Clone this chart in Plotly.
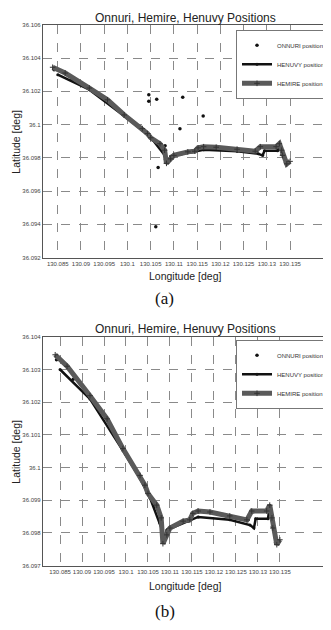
import plotly.graph_objects as go

# ---------------- data ----------------
# HEMIRE track (grey, thick)
hemire_lon = [130.0839, 130.0866, 130.0918, 130.0957, 130.0993, 130.1032, 130.1043, 130.1050,
              130.1070, 130.1080, 130.1084, 130.1093, 130.1100, 130.1130, 130.1145, 130.1152,
              130.1164, 130.1191, 130.1236, 130.1275, 130.1286, 130.1320, 130.1327, 130.1332,
              130.1334, 130.1343, 130.1350]
hemire_lat = [36.10345, 36.1031, 36.1022, 36.10149, 36.10058, 36.09976, 36.09946, 36.09921,
              36.09885, 36.09846, 36.09767, 36.09794, 36.09815, 36.09836, 36.0984, 36.0986,
              36.09867, 36.09864, 36.09852, 36.0984, 36.09867, 36.09867, 36.09885, 36.09846,
              36.09815, 36.09764, 36.09779]

# HENUVY track (black)
henuvy_lon = [130.0850, 130.0918, 130.0993, 130.1032, 130.1055, 130.1077, 130.1089, 130.1093,
              130.1141, 130.1164, 130.1236, 130.1282, 130.1291, 130.1295, 130.1323, 130.1327,
              130.1334, 130.1341]
henuvy_lat = [36.1030, 36.1021, 36.10052, 36.09967, 36.09906, 36.0983, 36.09785, 36.09809,
              36.09836, 36.09849, 36.0984, 36.09824, 36.09815, 36.09843, 36.09843, 36.09885,
              36.09821, 36.0977]

# ONNURI track (black dots)
onnuri_lon = [130.0842, 130.0880, 130.0940, 130.1000, 130.1040, 130.1068, 130.1082, 130.1095,
              130.1140, 130.1166, 130.1230, 130.1278, 130.1290, 130.1325, 130.1333, 130.1340]
onnuri_lat = [36.1033, 36.1027, 36.1018, 36.1004, 36.0995, 36.0988, 36.0979, 36.0981,
              36.0984, 36.09865, 36.0985, 36.0984, 36.09865, 36.09868, 36.0982, 36.0977]

# ONNURI outliers visible only in panel (a)
onnuri_out_lon = [130.1046, 130.1046, 130.1063, 130.1119, 130.1163, 130.1113, 130.1081,
                  130.1066, 130.1061]
onnuri_out_lat = [36.1018, 36.10141, 36.10153, 36.10165, 36.10052, 36.09975, 36.09873,
                  36.09742, 36.09385]

# axes ticks
lon_ticks = [130.085, 130.09, 130.095, 130.1, 130.105, 130.11, 130.115, 130.12, 130.125,
             130.13, 130.135]
lon_labels = ["130.085", "130.09", "130.095", "130.1", "130.105", "130.11", "130.115",
              "130.12", "130.125", "130.13", "130.135"]
lat_ticks_a = [36.092, 36.094, 36.096, 36.098, 36.1, 36.102, 36.104, 36.106]
lat_labels_a = ["36.092", "36.094", "36.096", "36.098", "36.1", "36.102", "36.104", "36.106"]
lat_ticks_b = [36.097, 36.098, 36.099, 36.1, 36.101, 36.102, 36.103, 36.104]
lat_labels_b = ["36.097", "36.098", "36.099", "36.1", "36.101", "36.102", "36.103", "36.104"]

title_text = "Onnuri, Hemire, Henuvy Positions"
series_names = ["ONNURI position", "HENUVY position", "HEMIRE position"]

# ---------------- page geometry (page body has an 8px margin) ----------------
OFF = 8
FW, FH = 331 - OFF, 630 - OFF


def px(x):
    return (x - OFF) / FW


def py(y):
    return 1 - (y - OFF) / FH


# ---------------- figure ----------------
fig = go.Figure()


def add_panel(xa, ya, leg, with_outliers):
    fig.add_trace(go.Scatter(
        x=onnuri_lon + ([None] + onnuri_out_lon if with_outliers else []),
        y=onnuri_lat + ([None] + onnuri_out_lat if with_outliers else []),
        mode="markers", name=series_names[0], xaxis=xa, yaxis=ya, legend=leg,
        marker=dict(color="#111111", size=3.5)))
    fig.add_trace(go.Scatter(
        x=henuvy_lon, y=henuvy_lat, mode="lines+markers", name=series_names[1],
        xaxis=xa, yaxis=ya, legend=leg,
        line=dict(color="#111111", width=2.5), marker=dict(color="#111111", size=3)))
    fig.add_trace(go.Scatter(
        x=hemire_lon, y=hemire_lat, mode="lines+markers", name=series_names[2],
        xaxis=xa, yaxis=ya, legend=leg,
        line=dict(color="#5a5a5a", width=5),
        marker=dict(color="#333333", size=4, symbol="cross-thin",
                    line=dict(width=1, color="#333333"))))


add_panel("x", "y", "legend", True)
add_panel("x2", "y2", "legend2", False)

tickfont = dict(family="Liberation Sans", size=6, color="#444444")
axis_common = dict(showgrid=True, griddash="dash", gridcolor="#8a8a8a", gridwidth=1,
                   showline=True, linecolor="#555555", linewidth=1, mirror=True,
                   zeroline=False, ticks="", tickfont=tickfont)

legend_style = dict(xanchor="left", yanchor="top",
                    bgcolor="white", bordercolor="#777777", borderwidth=1,
                    font=dict(size=6, family="Liberation Sans", color="#333333"),
                    tracegroupgap=0, itemwidth=30)

fig.update_layout(
    width=FW, height=FH,
    margin=dict(l=0, r=0, t=0, b=0),
    paper_bgcolor="white", plot_bgcolor="white",
    font=dict(family="Liberation Sans", color="#222222"),
    xaxis=dict(domain=[px(43), 1.0], anchor="y", range=[130.0818, 130.1436],
               tickvals=lon_ticks, ticktext=lon_labels, tickangle=0, **axis_common),
    yaxis=dict(domain=[py(257), py(22)], anchor="x", range=[36.092, 36.106],
               tickvals=lat_ticks_a, ticktext=lat_labels_a, **axis_common),
    xaxis2=dict(domain=[px(43), 1.0], anchor="y2", range=[130.0811, 130.1464],
                tickvals=lon_ticks, ticktext=lon_labels, tickangle=0, **axis_common),
    yaxis2=dict(domain=[py(568), py(337)], anchor="x2", range=[36.097, 36.104],
                tickvals=lat_ticks_b, ticktext=lat_labels_b, **axis_common),
    legend=dict(x=px(237), y=py(27), **legend_style),
    legend2=dict(x=px(237), y=py(340), **legend_style),
    showlegend=True,
)

ann_font = dict(family="Liberation Sans", size=12, color="#222222")
lab_font = dict(family="Liberation Sans", size=10.5, color="#222222")
annotations = [
    dict(text=title_text, x=px(186), y=py(15), font=ann_font),
    dict(text=title_text, x=px(186), y=py(329), font=ann_font),
    dict(text="Longitude [deg]", x=px(186), y=py(276), font=lab_font),
    dict(text="Longitude [deg]", x=px(186), y=py(589), font=lab_font),
    dict(text="Latitude [deg]", x=px(16), y=py(140), textangle=-90, font=lab_font),
    dict(text="Latitude [deg]", x=px(16), y=py(453), textangle=-90, font=lab_font),
    dict(text="(a)", x=px(165), y=py(298),
         font=dict(family="Liberation Serif", size=17, color="#111111")),
    dict(text="(b)", x=px(165), y=py(614),
         font=dict(family="Liberation Serif", size=17, color="#111111")),
]
for a in annotations:
    a.update(xref="paper", yref="paper", showarrow=False,
             xanchor="center", yanchor="middle")
fig.update_layout(annotations=annotations)

fig.write_html("out.html")
